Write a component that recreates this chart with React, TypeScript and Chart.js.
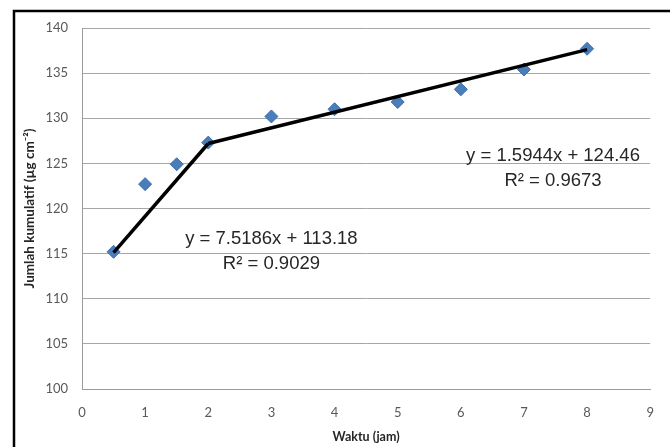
import React, { useEffect, useRef } from "react";
import { Chart, registerables } from "chart.js";

Chart.register(...registerables);

// Measured data (Waktu in jam, Jumlah kumulatif in µg cm⁻²)
const timeHours = [0.5, 1, 1.5, 2, 3, 4, 5, 6, 7, 8];
const cumulative = [115.2, 122.7, 124.9, 127.3, 130.2, 131.0, 131.8, 133.2, 135.4, 137.7];

// Fitted lines as drawn (end points)
const line1X = [0.5, 2];
const line1Y = [115.1, 127.2];
const line2X = [2, 8];
const line2Y = [127.2, 137.6];

// Equation labels
const eq1Lines = ["y = 7.5186x + 113.18", "R² = 0.9029"];
const eq1Pos = { x: 3.0, y: 116.1 };
const eq2Lines = ["y = 1.5944x + 124.46", "R² = 0.9673"];
const eq2Pos = { x: 7.46, y: 125.3 };

const xTitle = "Waktu (jam)";
const yTitle = "Jumlah kumulatif (µg cm⁻²)";

const labelPlugin = {
  id: "eqLabels",
  afterDatasetsDraw(chart: any) {
    const { ctx, scales } = chart;
    const draw = (lines: string[], pos: { x: number; y: number }) => {
      const px = scales.x.getPixelForValue(pos.x);
      const py = scales.y.getPixelForValue(pos.y);
      ctx.save();
      ctx.font = "18.5px 'Liberation Sans', Arial, sans-serif";
      ctx.fillStyle = "#262626";
      ctx.textAlign = "center";
      ctx.textBaseline = "alphabetic";
      lines.forEach((t, i) => ctx.fillText(t, px, py + i * 25));
      ctx.restore();
    };
    draw(eq1Lines, eq1Pos);
    draw(eq2Lines, eq2Pos);
  },
};

const framePlugin = {
  id: "frame",
  beforeDraw(chart: any) {
    const { ctx, width, height } = chart;
    ctx.save();
    ctx.fillStyle = "#ffffff";
    ctx.fillRect(0, 0, width, height);
    ctx.restore();
  },
  afterDraw(chart: any) {
    const { ctx, width, height } = chart;
    ctx.save();
    ctx.strokeStyle = "#000000";
    ctx.lineWidth = 2.5;
    ctx.beginPath();
    ctx.moveTo(14, height);
    ctx.lineTo(14, 11);
    ctx.lineTo(width, 11);
    ctx.stroke();
    ctx.restore();
  },
};

export default function App() {
  const ref = useRef<HTMLCanvasElement | null>(null);

  useEffect(() => {
    if (!ref.current) return;
    const chart = new Chart(ref.current, {
      type: "scatter",
      data: {
        datasets: [
          {
            label: "Data",
            data: timeHours.map((x, i) => ({ x, y: cumulative[i] })),
            pointStyle: "rectRot",
            pointRadius: 6.5,
            pointBackgroundColor: "#4A7EBB",
            pointBorderColor: "#3D6FAA",
            pointBorderWidth: 1,
            showLine: false,
            order: 1,
          },
          {
            label: "Fit 1",
            data: line1X.map((x, i) => ({ x, y: line1Y[i] })),
            showLine: true,
            borderColor: "#000000",
            borderWidth: 3.5,
            pointRadius: 0,
            order: 0,
          },
          {
            label: "Fit 2",
            data: line2X.map((x, i) => ({ x, y: line2Y[i] })),
            showLine: true,
            borderColor: "#000000",
            borderWidth: 3.5,
            pointRadius: 0,
            order: 0,
          },
        ],
      },
      options: {
        responsive: false,
        animation: false,
        layout: { padding: { left: 0, right: 15, top: 28, bottom: 3 } },
        plugins: {
          legend: { display: false },
          tooltip: { enabled: false },
        },
        scales: {
          x: {
            type: "linear",
            min: 0,
            max: 9,
            ticks: {
              stepSize: 1,
              padding: 16,
              color: "#595959",
              font: { family: "Lato, 'Open Sans', sans-serif", size: 13 },
            },
            grid: { display: false, drawTicks: false },
            border: { display: true, color: "#9a9a9a", width: 1 },
            title: {
              display: true,
              text: xTitle,
              color: "#262626",
              font: { family: "Lato, 'Open Sans', sans-serif", size: 12.5, weight: "bold" },
              padding: { top: 0, bottom: 0 },
            },
            afterFit(s: any) {
              s.height = 55;
            },
          },
          y: {
            type: "linear",
            min: 100,
            max: 140,
            ticks: {
              stepSize: 5,
              padding: 14,
              color: "#595959",
              font: { family: "Lato, 'Open Sans', sans-serif", size: 13 },
            },
            grid: { color: "#a6a6a6", lineWidth: 1, drawTicks: false },
            border: { display: true, color: "#9a9a9a", width: 1 },
            title: {
              display: true,
              text: yTitle,
              color: "#262626",
              font: { family: "Lato, 'Open Sans', sans-serif", size: 13.5, weight: "bold" },
              padding: { top: 22, bottom: 0 },
            },
            afterFit(s: any) {
              s.width = 82;
            },
          },
        },
      },
      plugins: [framePlugin, labelPlugin],
    });
    return () => chart.destroy();
  }, []);

  return (
    <div style={{ position: "absolute", left: 0, top: 0, width: 670, height: 447 }}>
      <canvas ref={ref} width={670} height={447} style={{ width: 670, height: 447, display: "block" }} />
    </div>
  );
}
